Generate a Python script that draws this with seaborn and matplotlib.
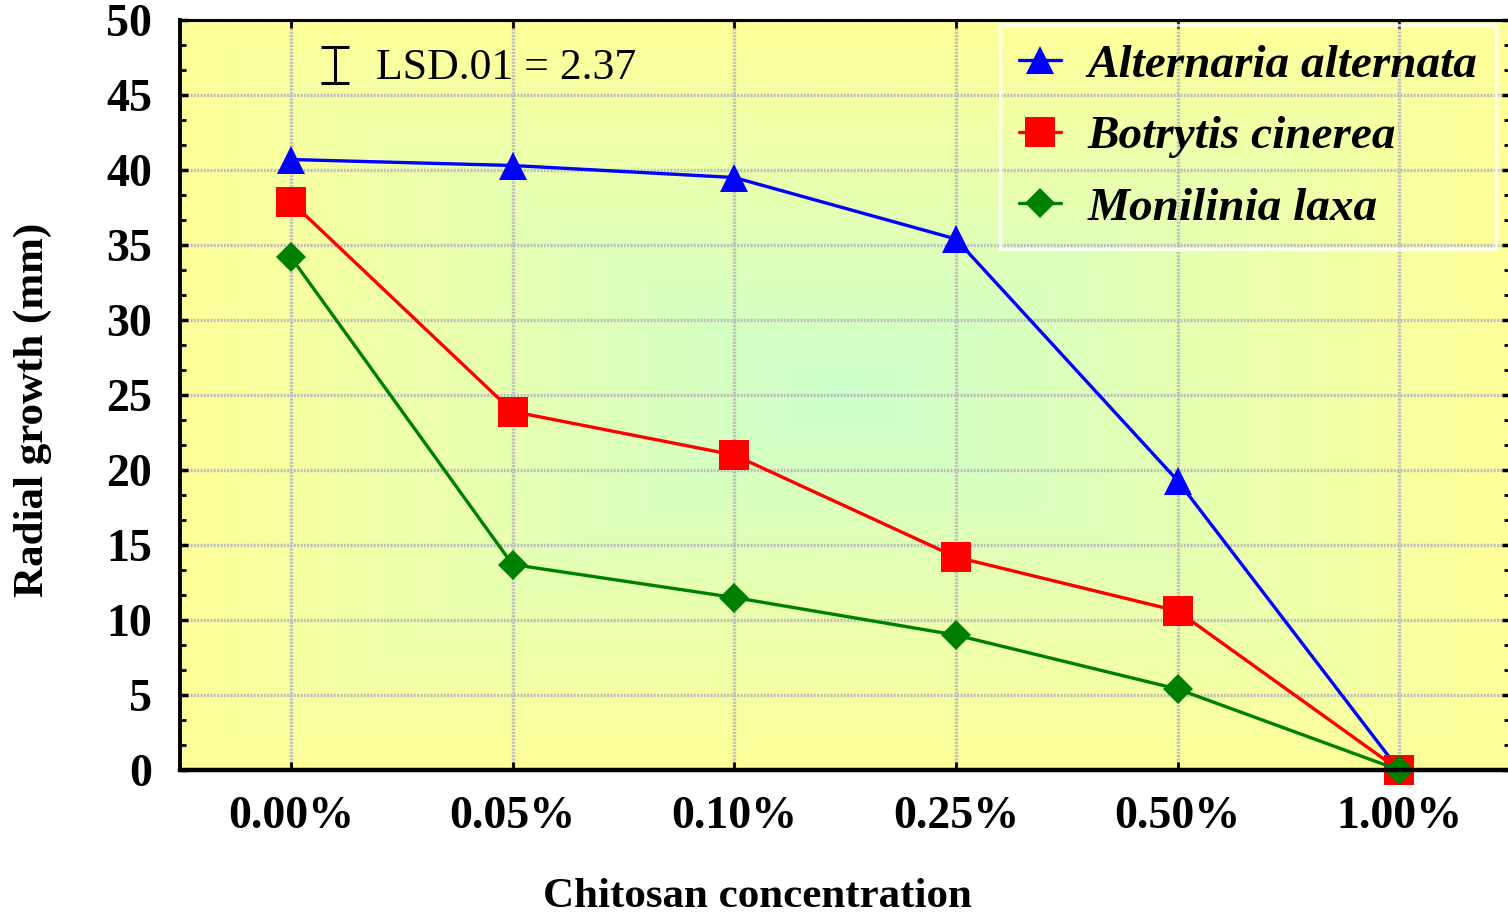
import numpy as np
import pandas as pd
import matplotlib
matplotlib.use("Agg")
import matplotlib.pyplot as plt
from matplotlib.lines import Line2D
from matplotlib.ticker import MultipleLocator
import seaborn as sns

# Chitosan concentrations (x categories)
concentrations = ["0.00%", "0.05%", "0.10%", "0.25%", "0.50%", "1.00%"]

# Radial growth (mm) of each fungus
alternaria = [40.7, 40.3, 39.5, 35.4, 19.3, 0.0]
botrytis = [37.9, 23.9, 21.0, 14.2, 10.6, 0.0]
monilinia = [34.2, 13.7, 11.5, 9.0, 5.4, 0.0]

species = ["Alternaria alternata", "Botrytis cinerea", "Monilinia laxa"]
lsd_value = 2.37

series = {
    "Alternaria alternata": alternaria,
    "Botrytis cinerea": botrytis,
    "Monilinia laxa": monilinia,
}
positions = np.arange(len(concentrations))
df = pd.concat(
    [pd.DataFrame({"pos": positions, "growth": vals, "species": name})
     for name, vals in series.items()],
    ignore_index=True,
)

palette = {"Alternaria alternata": "#0000FF",
           "Botrytis cinerea": "#FF0000",
           "Monilinia laxa": "#008000"}
markers = {"Alternaria alternata": "^",
           "Botrytis cinerea": "s",
           "Monilinia laxa": "D"}
msizes = {"Alternaria alternata": 20.5,
          "Botrytis cinerea": 21,
          "Monilinia laxa": 15}

sns.set_style("white")
plt.rcParams["font.family"] = ["Liberation Serif", "DejaVu Serif"]
plt.rcParams.update({"text.color": "black", "axes.labelcolor": "black",
                     "xtick.color": "black", "ytick.color": "black"})

fig = plt.figure(figsize=(15.08, 9.15), dpi=100)
ax = fig.add_axes([180 / 1508, 1 - 770 / 915, 1330 / 1508, 750 / 915])

# Rectangular centre-out gradient: pale green in the middle, yellow at the edges
n = 400
gx = np.linspace(-1, 1, n)
gy = np.linspace(-1, 1, n)
GX, GY = np.meshgrid(gx, gy)
t = np.clip(np.maximum(np.abs(GX), np.abs(GY)), 0, 1)
edge = np.array([255, 255, 153]) / 255
center = np.array([204, 255, 204]) / 255
img = center[None, None, :] * (1 - t[..., None]) + edge[None, None, :] * t[..., None]
ax.imshow(img, extent=[0, 1, 0, 1], transform=ax.transAxes, aspect="auto",
          zorder=0, interpolation="bilinear")

for name in species:
    sub = df[df["species"] == name]
    sns.lineplot(data=sub, x="pos", y="growth", color=palette[name],
                 marker=markers[name], markersize=msizes[name],
                 markeredgewidth=0, linewidth=2.4, ax=ax, sort=False,
                 legend=False, clip_on=False, zorder=3)

# LSD bar
ax.errorbar([0.2], [47.0], yerr=[lsd_value / 2], color="black", capsize=10,
            elinewidth=2.2, capthick=2.2, zorder=3)
ax.text(0.385, 46.8, f"LSD.01 = {lsd_value}", fontsize=31.5, va="center",
        ha="left", color="black", zorder=4)

ax.set_xlim(-0.5, 5.5)
ax.set_ylim(0, 50)
ax.set_xticks(positions)
ax.set_xticklabels(concentrations)
ax.yaxis.set_major_locator(MultipleLocator(5))
ax.yaxis.set_minor_locator(MultipleLocator(5 / 3))

ax.grid(True, which="major", color="#BDBDBD", linestyle=(0, (0.6, 0.4)),
        linewidth=2.4, zorder=1)
ax.set_axisbelow(True)

for lab in ax.get_xticklabels() + ax.get_yticklabels():
    lab.set_fontweight("bold")
ax.tick_params(axis="x", which="major", direction="in", length=6, width=2,
               top=True, bottom=True, labelsize=33, pad=19)
ax.tick_params(axis="y", which="major", direction="in", length=6, width=2.5,
               left=True, right=True, labelsize=33, pad=20)
ax.tick_params(axis="y", which="minor", direction="in", length=4, width=2,
               left=True, right=True)

for side, lw in {"left": 2.8, "bottom": 3.2, "top": 2.2, "right": 2.2}.items():
    ax.spines[side].set_visible(True)
    ax.spines[side].set_color("black")
    ax.spines[side].set_linewidth(lw)
    ax.spines[side].set_zorder(5)

ax.set_xlabel("Chitosan concentration", fontsize=31, fontweight="bold")
ax.set_ylabel("Radial growth (mm)", fontsize=31, fontweight="bold")
ax.xaxis.set_label_coords((757 - 180) / 1330, (770 - 878) / 750)
ax.yaxis.set_label_coords((52 - 180) / 1330, (770 - 410) / 750)

handles = [Line2D([], [], color=palette[s], marker=markers[s],
                  markersize=msizes[s], markeredgewidth=0, linewidth=2.4)
           for s in species]
leg = ax.legend(handles, species, loc="upper right",
                bbox_to_anchor=(1 - 14 / 1330, 1 - 5 / 750),
                prop={"family": "Liberation Serif", "weight": "bold",
                      "style": "italic", "size": 34},
                frameon=True, fancybox=False, facecolor="none",
                edgecolor="white", handlelength=0.9, handletextpad=0.55,
                labelspacing=0.6, borderpad=0.4, borderaxespad=0)
leg.get_frame().set_linewidth(2.5)
leg.set_zorder(6)
for txt in leg.get_texts():
    txt.set_color("black")

fig.savefig("out.png", dpi=100)
